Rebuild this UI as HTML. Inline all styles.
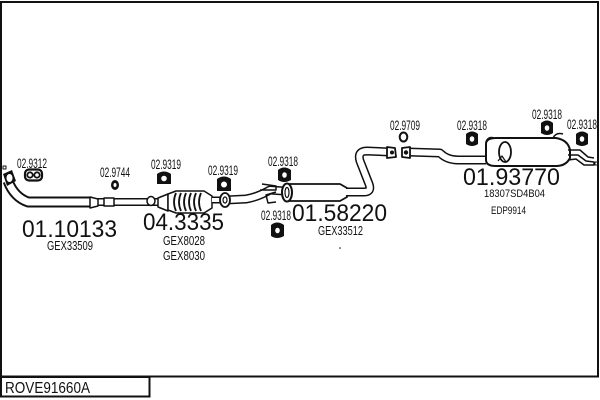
<!DOCTYPE html>
<html><head><meta charset="utf-8"><style>
html,body{margin:0;padding:0;background:#fff;width:600px;height:400px;overflow:hidden}
svg{display:block}
text{font-family:"Liberation Sans",Arial,sans-serif;fill:#111}
</style></head><body>
<svg width="600" height="400" viewBox="0 0 600 400" xmlns="http://www.w3.org/2000/svg">
<!-- frame -->
<rect x="1" y="2" width="597" height="374.5" fill="none" stroke="#111" stroke-width="2"/>
<rect x="1" y="377" width="148.5" height="19.5" fill="none" stroke="#111" stroke-width="2"/>
<text x="5" y="393" font-size="16" textLength="85" lengthAdjust="spacingAndGlyphs">ROVE91660A</text>

<g stroke-linejoin="round" stroke-linecap="butt">
<!-- front pipe -->
<path d="M8,181 Q14,197 28,202 L92,202" fill="none" stroke="#111" stroke-width="11"/>
<path d="M8,181 Q14,197 28,202 L92,202" fill="none" stroke="#fff" stroke-width="7"/>
<path d="M92,202 L146,202" fill="none" stroke="#111" stroke-width="8"/>
<path d="M92,202 L146,202" fill="none" stroke="#fff" stroke-width="5"/>
<path d="M90,197 L98,199 L98,206 L90,208 Z" fill="#fff" stroke="#111" stroke-width="1.5"/>
<rect x="104" y="198" width="10" height="8" fill="#fff" stroke="#111" stroke-width="1.5"/>
<!-- manifold flange -->
<path d="M3,174 L12,170 L16,181 L7,186 Z" fill="#111"/>
<ellipse cx="9.5" cy="178" rx="3" ry="4" fill="#fff"/>
<rect x="3" y="166" width="3" height="3" fill="none" stroke="#111" stroke-width="1"/>
<!-- hanger 02.9312 -->
<rect x="25" y="169.5" width="17" height="11" rx="4" fill="#fff" stroke="#111" stroke-width="2.2"/>
<circle cx="30" cy="175" r="2.7" fill="none" stroke="#111" stroke-width="1.8"/>
<circle cx="37" cy="175" r="2.7" fill="none" stroke="#111" stroke-width="1.8"/>
<!-- hanger 02.9744 -->
<ellipse cx="115" cy="185" rx="4" ry="5" fill="#111"/>
<ellipse cx="115" cy="185" rx="1.5" ry="2" fill="#fff"/>

<!-- cat -->
<path d="M146,202 L168,202" fill="none" stroke="#111" stroke-width="8"/>
<path d="M146,202 L168,202" fill="none" stroke="#fff" stroke-width="5"/>
<ellipse cx="151" cy="201" rx="4" ry="4.5" fill="#fff" stroke="#111" stroke-width="1.5"/>
<path d="M158,198 L168,194 L168,211 L158,207 Z" fill="#fff" stroke="#111" stroke-width="1.5"/>
<path d="M168,194 L176,191 L204,191 L212,196 L212,208 L204,213 L176,213 L168,210 Z" fill="#fff" stroke="#111" stroke-width="1.5"/>
<g fill="none" stroke="#111" stroke-width="1.8">
<path d="M176,193 Q172,202 176,211"/><path d="M181,193 Q177,202 181,211"/><path d="M186,193 Q182,202 186,211"/>
<path d="M191,193 Q187,202 191,211"/><path d="M196,193 Q192,202 196,211"/><path d="M201,193 Q197,202 201,211"/>
</g>
<path d="M212,200 L220,200" fill="none" stroke="#111" stroke-width="7"/>
<path d="M212,200 L220,200" fill="none" stroke="#fff" stroke-width="4"/>
<!-- hangers 02.9319 -->
<path d="M157,174 Q164,169 171,174 L171,184 L157,184 Z" fill="#111"/>
<circle cx="164" cy="178.5" r="2.8" fill="#fff"/>
<path d="M217,179 Q224,174 231,179 L231,191 L217,191 Z" fill="#111"/>
<circle cx="224" cy="184.5" r="3" fill="#fff"/>

<!-- pipe after cat -->
<path d="M226,200 L246,199 Q258,197 270,190 L284,191" fill="none" stroke="#111" stroke-width="9"/>
<path d="M226,200 L246,199 Q258,197 270,190 L284,191" fill="none" stroke="#fff" stroke-width="6"/>
<ellipse cx="225" cy="200" rx="5" ry="7" fill="#fff" stroke="#111" stroke-width="1.8"/>
<ellipse cx="225" cy="200" rx="2" ry="3" fill="none" stroke="#111" stroke-width="1.2"/>
<!-- bracket -->
<path d="M262,184 L276,186 L276,190 L260,190 M276,192 L266,195 L268,203 L276,202" fill="none" stroke="#111" stroke-width="1.5"/>

<!-- middle muffler -->
<path d="M288,184 L340,184 L347,188 L347,197 L340,201 L288,201 Z" fill="#fff" stroke="#111" stroke-width="1.8"/>
<ellipse cx="287" cy="192.5" rx="5" ry="9" fill="#fff" stroke="#111" stroke-width="2"/>
<ellipse cx="287" cy="192.5" rx="2" ry="5" fill="none" stroke="#111" stroke-width="1.2"/>
<!-- hangers 02.9318 mid -->
<path d="M278,170 Q284,165 291,170 L291,180 Q284,184 278,180 Z" fill="#111"/>
<ellipse cx="284.5" cy="175" rx="2.3" ry="2.8" fill="#fff"/>
<path d="M271,225 Q277,220 284,225 L284,236 Q277,240 271,236 Z" fill="#111"/>
<ellipse cx="277.5" cy="230.5" rx="2.3" ry="2.8" fill="#fff"/>
<circle cx="340" cy="248" r="0.8" fill="#111"/>

<!-- S pipe -->
<path d="M346,192 L364,192 Q372,192 369,184 L360,161 Q357,151 367,151 L390,152" fill="none" stroke="#111" stroke-width="9"/>
<path d="M346,192 L364,192 Q372,192 369,184 L360,161 Q357,151 367,151 L390,152" fill="none" stroke="#fff" stroke-width="6"/>
<path d="M387,147 L395,148 L396,157 L387,158 Z" fill="#fff" stroke="#111" stroke-width="1.8"/>
<circle cx="392" cy="152.5" r="2" fill="#111"/>
<!-- O ring 02.9709 -->
<ellipse cx="403.5" cy="137" rx="3.8" ry="4.5" fill="none" stroke="#111" stroke-width="2"/>

<!-- pipe to rear -->
<path d="M408,152 L440,153 Q447,160 458,160 L486,160" fill="none" stroke="#111" stroke-width="9"/>
<path d="M408,152 L440,153 Q447,160 458,160 L486,160" fill="none" stroke="#fff" stroke-width="6"/>
<path d="M402,148 L410,147 L410,158 L402,157 Z" fill="#fff" stroke="#111" stroke-width="1.8"/>
<circle cx="406" cy="152.5" r="2.2" fill="#111"/>

<!-- rear muffler -->
<path d="M486,144 Q486,138 496,138 L556,138 Q568,140 570,150 L570,158 Q566,166 556,166 L496,166 Q486,166 486,160 Z" fill="#fff" stroke="#111" stroke-width="2"/>
<path d="M486,142 Q488,136 494,138" fill="none" stroke="#111" stroke-width="1.5"/>
<path d="M553,138 Q556,132 563,134" fill="none" stroke="#111" stroke-width="1.5"/>
<ellipse cx="505" cy="152" rx="6" ry="10" fill="#fff" stroke="#111" stroke-width="1.8"/>
<path d="M498,161 L502,156 L506,162" fill="none" stroke="#111" stroke-width="1.2"/>
<!-- tail pipes -->
<path d="M568,150 L580,150 L588,157 L594,158" fill="none" stroke="#111" stroke-width="1.5"/>
<path d="M568,155 L578,155 L586,161 L594,162 L594,165 L584,165 L576,159 L568,160" fill="none" stroke="#111" stroke-width="1.5"/>
<rect x="595" y="162" width="3" height="3" fill="none" stroke="#111" stroke-width="1"/>
<!-- rear hangers -->
<path d="M466,134 Q472,129 478,134 L478,144 Q472,148 466,144 Z" fill="#111"/>
<ellipse cx="472" cy="139" rx="2.3" ry="2.8" fill="#fff"/>
<path d="M541,123 Q547,118 553,123 L553,133 Q547,137 541,133 Z" fill="#111"/>
<ellipse cx="547" cy="128" rx="2.3" ry="2.8" fill="#fff"/>
<path d="M576,134 Q582,129 588,134 L588,144 Q582,148 576,144 Z" fill="#111"/>
<ellipse cx="582" cy="139" rx="2.3" ry="2.8" fill="#fff"/>
</g>

<!-- small labels -->
<g font-size="13.5">
<text x="17" y="168" textLength="30" lengthAdjust="spacingAndGlyphs">02.9312</text>
<text x="100" y="177" textLength="30" lengthAdjust="spacingAndGlyphs">02.9744</text>
<text x="151" y="169" textLength="30" lengthAdjust="spacingAndGlyphs">02.9319</text>
<text x="208" y="175" textLength="30" lengthAdjust="spacingAndGlyphs">02.9319</text>
<text x="268" y="166" textLength="30" lengthAdjust="spacingAndGlyphs">02.9318</text>
<text x="261" y="220" textLength="30" lengthAdjust="spacingAndGlyphs">02.9318</text>
<text x="390" y="130" textLength="30" lengthAdjust="spacingAndGlyphs">02.9709</text>
<text x="457" y="130" textLength="30" lengthAdjust="spacingAndGlyphs">02.9318</text>
<text x="532" y="119" textLength="30" lengthAdjust="spacingAndGlyphs">02.9318</text>
<text x="567" y="129" textLength="30" lengthAdjust="spacingAndGlyphs">02.9318</text>
</g>
<g font-size="12.5">
<text x="47" y="250" textLength="46" lengthAdjust="spacingAndGlyphs">GEX33509</text>
<text x="163" y="245" textLength="42" lengthAdjust="spacingAndGlyphs">GEX8028</text>
<text x="163" y="260" textLength="42" lengthAdjust="spacingAndGlyphs">GEX8030</text>
<text x="318" y="235" textLength="45" lengthAdjust="spacingAndGlyphs">GEX33512</text>
<text x="484" y="197" font-size="11" textLength="61" lengthAdjust="spacingAndGlyphs">18307SD4B04</text>
<text x="491" y="214" font-size="11" textLength="35" lengthAdjust="spacingAndGlyphs">EDP9914</text>
</g>
<!-- big numbers -->
<g font-size="24">
<text x="22" y="237" textLength="95" lengthAdjust="spacingAndGlyphs">01.10133</text>
<text x="143" y="230" textLength="81" lengthAdjust="spacingAndGlyphs">04.3335</text>
<text x="292" y="221" textLength="95" lengthAdjust="spacingAndGlyphs">01.58220</text>
<text x="463" y="185" textLength="97" lengthAdjust="spacingAndGlyphs">01.93770</text>
</g>
</svg>
</body></html>
